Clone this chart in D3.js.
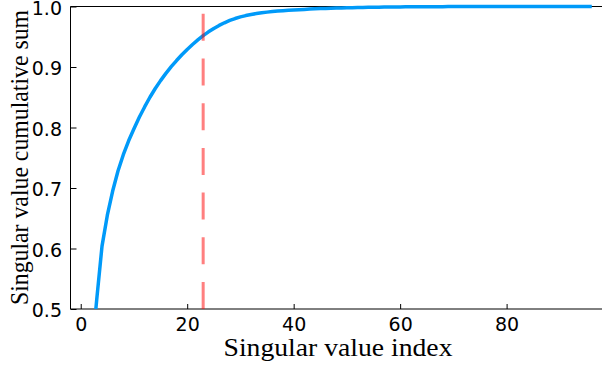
<!DOCTYPE html>
<html>
<head>
<meta charset="utf-8">
<script src="https://cdn.jsdelivr.net/npm/d3@7"></script>
<style>
  html, body { margin: 0; padding: 0; background: #fff; }
  svg { display: block; }
  .tick text { font-family: "DejaVu Sans", sans-serif; font-size: 19px; fill: #000; }
  .tick line { stroke: #000; stroke-width: 1; }
  .label { font-family: "Liberation Serif", "DejaVu Serif", serif; font-size: 25px; fill: #000; }
</style>
</head>
<body>
<div id="view"></div>
<script>
// cumulative sum of singular values, one value per index 0..96
const cumulativeSum = [
  0.20, 0.32, 0.42, 0.515, 0.604, 0.655, 0.695, 0.728, 0.755, 0.778,
  0.798, 0.817, 0.834, 0.850, 0.8645, 0.8775, 0.8895, 0.9005, 0.9107, 0.9202,
  0.929, 0.9372, 0.9448, 0.9518, 0.9581, 0.9637, 0.9687, 0.9731, 0.9769, 0.9801,
  0.9828, 0.985, 0.9868, 0.9883, 0.9896, 0.9907, 0.9916, 0.9924, 0.9931, 0.9937,
  0.9942, 0.9947, 0.9952, 0.9957, 0.9961, 0.9965, 0.9968, 0.9971, 0.9974, 0.9977,
  0.9979, 0.9981, 0.9983, 0.9985, 0.9987, 0.9988, 0.9989, 0.999, 0.9991, 0.9992,
  0.9993, 0.9994, 0.9995, 0.9995, 0.9996, 0.9996, 0.9997, 0.9997, 0.9997, 0.9998,
  0.9998, 0.9998, 0.9998, 0.9999, 0.9999, 0.9999, 0.9999, 0.9999, 0.9999, 0.9999,
  1.0, 1.0, 1.0, 1.0, 1.0, 1.0, 1.0, 1.0, 1.0, 1.0,
  1.0, 1.0, 1.0, 1.0, 1.0, 1.0, 1.0
];
const cutoffIndex = 23;
const xTicks = [0, 20, 40, 60, 80];
const yTicks = [0.5, 0.6, 0.7, 0.8, 0.9, 1.0];

const width = 602, height = 366;
const plotLeft = 70.5, plotRight = 602, plotTop = 6.5, plotBottom = 309;

const svg = d3.select("#view")
  .append("svg")
  .attr("width", width)
  .attr("height", height);

const x = d3.scaleLinear().domain([-1.92, 97.92]).range([plotLeft, plotRight]);
const y = d3.scaleLinear().domain([0.5, 1.0]).range([plotBottom, plotTop]);

svg.append("clipPath").attr("id", "plot-clip")
  .append("rect")
  .attr("x", plotLeft).attr("y", plotTop - 3)
  .attr("width", plotRight - plotLeft).attr("height", plotBottom - plotTop + 3);

// frame: top, left and bottom lines
svg.append("path")
  .attr("d", `M${plotRight},${plotTop}H${plotLeft}V${plotBottom}H${plotRight}`)
  .attr("fill", "none")
  .attr("stroke", "#000")
  .attr("stroke-width", 1);

const xAxis = d3.axisBottom(x).tickValues(xTicks).tickSize(-5).tickPadding(9).tickFormat(d3.format("d"));
svg.append("g")
  .attr("class", "x axis")
  .attr("transform", `translate(0, ${plotBottom})`)
  .call(xAxis)
  .call(g => g.select(".domain").remove());

const yAxis = d3.axisLeft(y).tickValues(yTicks).tickSize(-6).tickPadding(8.5).tickFormat(d3.format(".1f"));
svg.append("g")
  .attr("class", "y axis")
  .attr("transform", `translate(${plotLeft}, 0)`)
  .call(yAxis)
  .call(g => g.select(".domain").remove())
  .call(g => g.selectAll(".tick text").attr("dy", "0.4em"));

const line = d3.line()
  .x((d, i) => x(i))
  .y(d => y(d));

svg.append("path")
  .datum(cumulativeSum)
  .attr("clip-path", "url(#plot-clip)")
  .attr("d", line)
  .attr("fill", "none")
  .attr("stroke", "#009af9")
  .attr("stroke-width", 3.5)
  .attr("stroke-linejoin", "round");

// cutoff line, drawn bottom to top so the dashes start at the axis
svg.append("line")
  .attr("x1", x(cutoffIndex)).attr("x2", x(cutoffIndex))
  .attr("y1", plotBottom).attr("y2", plotTop)
  .attr("stroke", "#ff0000")
  .attr("stroke-opacity", 0.5)
  .attr("stroke-width", 3)
  .attr("stroke-dasharray", "27 17.7");

svg.append("text")
  .attr("class", "label")
  .attr("x", 338).attr("y", 356)
  .attr("text-anchor", "middle")
  .attr("textLength", 229)
  .attr("lengthAdjust", "spacingAndGlyphs")
  .text("Singular value index");

svg.append("text")
  .attr("class", "label")
  .attr("transform", "translate(28, 157.5) rotate(-90)")
  .attr("text-anchor", "middle")
  .attr("textLength", 295)
  .attr("lengthAdjust", "spacingAndGlyphs")
  .text("Singular value cumulative sum");
</script>
</body>
</html>
